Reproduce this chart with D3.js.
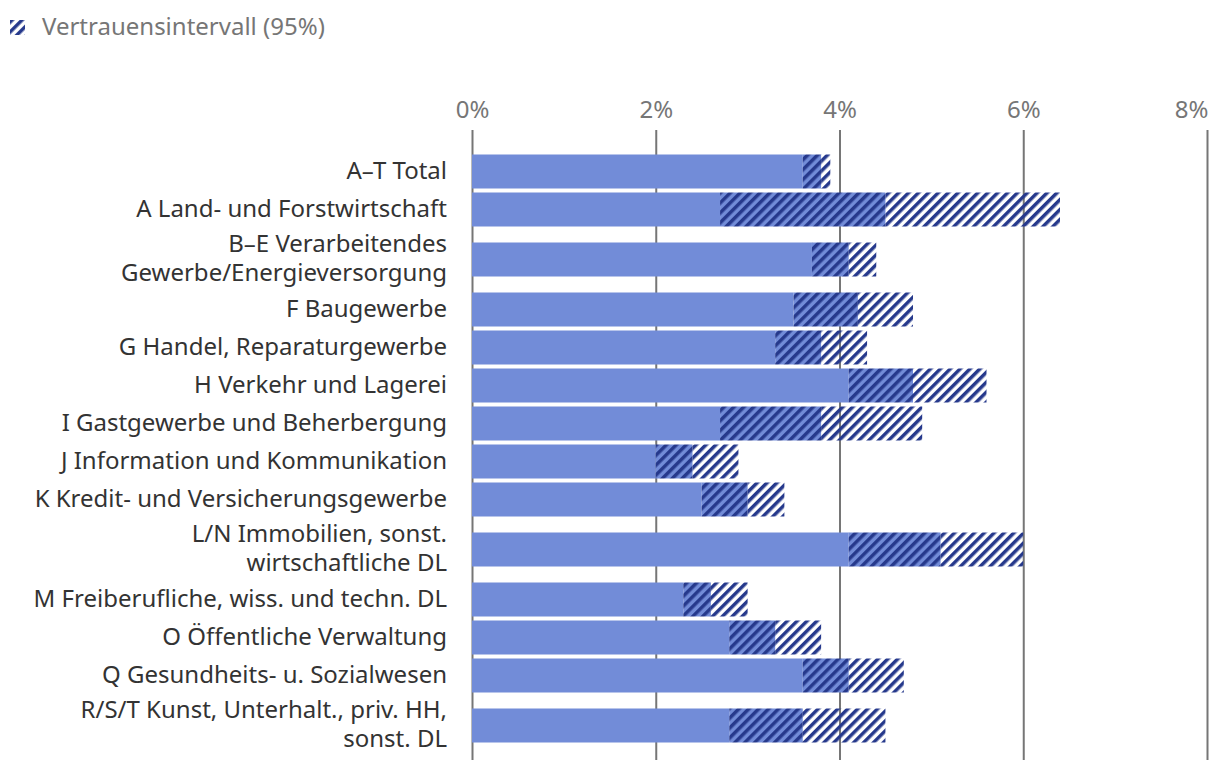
<!DOCTYPE html>
<html>
<head>
<meta charset="utf-8">
<script src="https://cdn.jsdelivr.net/npm/d3@7"></script>
<style>
  body { margin: 0; background: #fff; }
  svg { display: block; font-family: "Noto Sans", "Open Sans", sans-serif; }
</style>
</head>
<body>
<svg id="chart" width="1220" height="772"></svg>
<script>
// categories (label lines) and values in percent
var categories = [
    ["A–T Total"],
    ["A Land- und Forstwirtschaft"],
    ["B–E Verarbeitendes", "Gewerbe/Energieversorgung"],
    ["F Baugewerbe"],
    ["G Handel, Reparaturgewerbe"],
    ["H Verkehr und Lagerei"],
    ["I Gastgewerbe und Beherbergung"],
    ["J Information und Kommunikation"],
    ["K Kredit- und Versicherungsgewerbe"],
    ["L/N Immobilien, sonst.", "wirtschaftliche DL"],
    ["M Freiberufliche, wiss. und techn. DL"],
    ["O Öffentliche Verwaltung"],
    ["Q Gesundheits- u. Sozialwesen"],
    ["R/S/T Kunst, Unterhalt., priv. HH,", "sonst. DL"]
];
var estimate = [3.8, 4.5, 4.1, 4.2, 3.8, 4.8, 3.8, 2.4, 3.0, 5.1, 2.6, 3.3, 4.1, 3.6];
var lower    = [3.6, 2.7, 3.7, 3.5, 3.3, 4.1, 2.7, 2.0, 2.5, 4.1, 2.3, 2.8, 3.6, 2.8];
var upper    = [3.9, 6.4, 4.4, 4.8, 4.3, 5.6, 4.9, 2.9, 3.4, 6.0, 3.0, 3.8, 4.7, 4.5];
var xTicks = [0, 2, 4, 6, 8];
var legendLabel = "Vertrauensintervall (95%)";

var solidColor = "#728cd8",
    stripeColor = "#26398c",
    greyText = "#767676",
    darkText = "#333333";

var svg = d3.select("#chart");

// hatch patterns: one over the bar colour, one over nothing
var defs = svg.append("defs");
function hatch(id, bg) {
    var p = defs.append("pattern")
        .attr("id", id)
        .attr("patternUnits", "userSpaceOnUse")
        .attr("width", 7).attr("height", 7)
        .attr("patternTransform", "rotate(45)");
    if (bg) p.append("rect").attr("width", 7).attr("height", 7).attr("fill", bg);
    p.append("rect").attr("x", 0).attr("width", 3.5).attr("height", 7).attr("fill", stripeColor);
}
hatch("hatchBlue", solidColor);
hatch("hatchWhite", null);

var x = d3.scaleLinear().domain([0, 8]).range([472, 1207]);

// rows with two label lines take more room
var singleH = 38, doubleH = 62;
var rowH = categories.map(function(c) { return c.length > 1 ? doubleH : singleH; });
var rowTop = [];
var acc = 152.5;
rowH.forEach(function(h) { rowTop.push(acc); acc += h; });
function center(i) { return rowTop[i] + rowH[i] / 2; }
var barH = 34;

// axis + gridlines
var axis = d3.axisTop(x)
    .tickValues(xTicks)
    .tickFormat(function(d) { return d + "%"; })
    .tickSize(-(760 - 130))
    .tickPadding(12);

var gAxis = svg.append("g")
    .attr("transform", "translate(0,130)")
    .call(axis);
gAxis.select(".domain").remove();
gAxis.selectAll(".tick line").attr("stroke", "#767676").attr("stroke-width", 2);
gAxis.selectAll(".tick text")
    .attr("fill", greyText)
    .style("font-size", "24px")
    .style("font-family", "'Noto Sans', sans-serif");
// last label kept inside the picture
gAxis.selectAll(".tick text")
    .filter(function(d) { return d === xTicks[xTicks.length - 1]; })
    .attr("text-anchor", "end")
    .attr("x", 1);

// bars
var rows = svg.append("g").selectAll("g")
    .data(categories)
    .enter().append("g");

rows.append("rect")
    .attr("x", x(0))
    .attr("y", function(d, i) { return center(i) - barH / 2; })
    .attr("width", function(d, i) { return x(lower[i]) - x(0); })
    .attr("height", barH)
    .attr("fill", solidColor);

rows.append("rect")
    .attr("x", function(d, i) { return x(lower[i]); })
    .attr("y", function(d, i) { return center(i) - barH / 2; })
    .attr("width", function(d, i) { return x(estimate[i]) - x(lower[i]); })
    .attr("height", barH)
    .attr("fill", "url(#hatchBlue)");

rows.append("rect")
    .attr("x", function(d, i) { return x(estimate[i]); })
    .attr("y", function(d, i) { return center(i) - barH / 2; })
    .attr("width", function(d, i) { return x(upper[i]) - x(estimate[i]); })
    .attr("height", barH)
    .attr("fill", "url(#hatchWhite)");

// category labels
rows.append("text")
    .attr("x", 447)
    .attr("text-anchor", "end")
    .attr("fill", darkText)
    .style("font-size", "24px")
    .each(function(d, i) {
        var t = d3.select(this);
        var lineH = 28.5;
        var first = center(i) - (d.length - 1) * lineH / 2;
        d.forEach(function(line, k) {
            t.append("tspan")
                .attr("x", 447)
                .attr("y", first + k * lineH)
                .attr("dy", "0.3em")
                .text(line);
        });
    });

// legend
var legend = svg.append("g");
legend.append("rect")
    .attr("x", 10).attr("y", 20)
    .attr("width", 15).attr("height", 15)
    .attr("fill", "url(#hatchWhite)");
legend.append("text")
    .attr("x", 42).attr("y", 27.5)
    .attr("dy", "0.33em")
    .attr("fill", greyText)
    .style("font-size", "24px")
    .text(legendLabel);
</script>
</body>
</html>
